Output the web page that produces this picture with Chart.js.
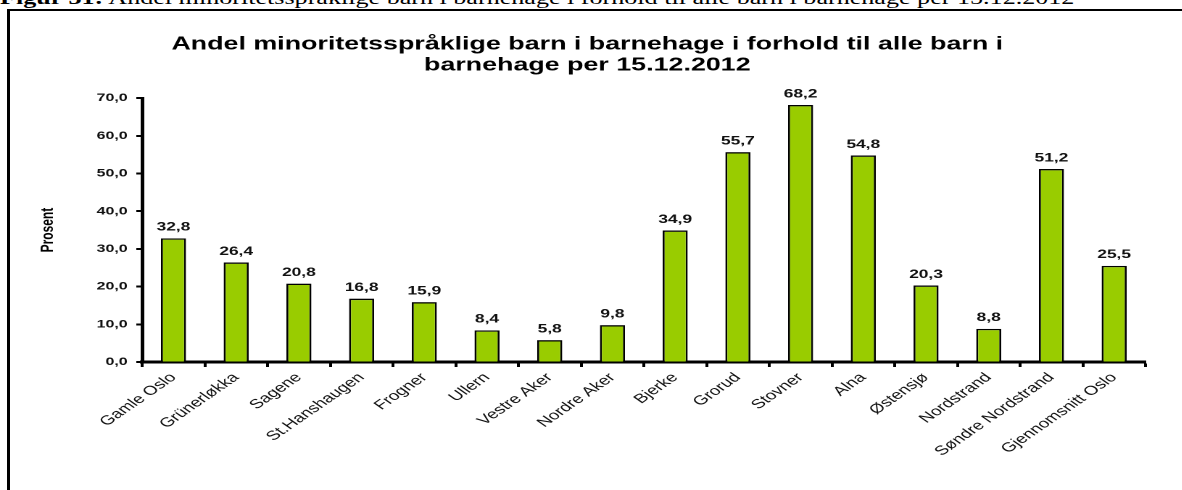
<!DOCTYPE html>
<html>
<head>
<meta charset="utf-8">
<script src="https://cdn.jsdelivr.net/npm/chart.js@4"></script>
<style>
  body { margin: 0; background: #fff; width: 1182px; height: 490px; overflow: hidden; position: relative; }
  #caption { position: absolute; left: 0; top: -12px; white-space: nowrap;
    font: 18px "Liberation Serif", "Times New Roman", serif; color: #000;
    transform: scaleX(1.45); transform-origin: 0 0; }
  #frame { position: absolute; left: 7px; top: 9px; width: 1200px; height: 500px;
    border-left: 3px solid #000; border-top: 2px solid #000; pointer-events: none; }
  /* the reference is stretched sideways, so the chart is drawn narrow and widened */
  #chart { position: absolute; left: 0; top: 0; transform: scaleX(1.45); transform-origin: 0 0; }
</style>
</head>
<body>
<div id="caption"><b>Figur 31:</b> Andel minoritetsspråklige barn i barnehage i forhold til alle barn i barnehage per 15.12.2012</div>
<div id="frame"></div>
<canvas id="chart" width="815" height="490"></canvas>
<script>
const categories = ["Gamle Oslo", "Grünerløkka", "Sagene", "St.Hanshaugen", "Frogner", "Ullern",
  "Vestre Aker", "Nordre Aker", "Bjerke", "Grorud", "Stovner", "Alna", "Østensjø",
  "Nordstrand", "Søndre Nordstrand", "Gjennomsnitt Oslo"];
const values = [32.8, 26.4, 20.8, 16.8, 15.9, 8.4, 5.8, 9.8, 34.9, 55.7, 68.2, 54.8, 20.3, 8.8, 51.2, 25.5];
const titleLines = ["Andel minoritetsspråklige barn i barnehage i forhold til alle barn i", "barnehage per 15.12.2012"];
const yTicks = [0, 10, 20, 30, 40, 50, 60, 70];

const fmt = v => v.toFixed(1).replace(".", ",");
const FONT = "'Liberation Sans', Arial, sans-serif";

// value labels over each bar
const barLabels = {
  id: "barLabels",
  afterDatasetsDraw(chart) {
    const c = chart.ctx;
    const meta = chart.getDatasetMeta(0);
    c.save();
    c.font = "bold 12px " + FONT;
    c.fillStyle = "#111";
    c.textAlign = "center";
    c.textBaseline = "bottom";
    meta.data.forEach((bar, i) => {
      c.fillText(fmt(values[i]), bar.x, bar.y - 5);
    });
    c.restore();
  }
};

const ctx = document.getElementById("chart");
new Chart(ctx, {
  type: "bar",
  data: {
    labels: categories,
    datasets: [{
      data: values,
      backgroundColor: "#99cc00",
      borderColor: "#000",
      borderWidth: 1.4,
      barPercentage: 0.4,
      categoryPercentage: 1
    }]
  },
  options: {
    responsive: false,
    animation: false,
    devicePixelRatio: 2,
    layout: { padding: { left: 20, right: 25, top: 0, bottom: 0 } },
    plugins: {
      legend: { display: false },
      tooltip: { enabled: false },
      title: {
        display: true,
        text: titleLines,
        color: "#000",
        font: { family: FONT, size: 18.5, weight: "bold", lineHeight: 1.14 },
        padding: { top: 34, bottom: 22 }
      }
    },
    scales: {
      x: {
        afterFit: s => { s.height = 128; },
        grid: { drawOnChartArea: false, offset: true, tickLength: 5, tickColor: "#000", tickWidth: 2 },
        border: { color: "#000", width: 3 },
        ticks: {
          minRotation: 45, maxRotation: 45, autoSkip: false, padding: 3,
          color: "#111",
          font: { family: FONT, size: 13 }
        }
      },
      y: {
        min: 0, max: 70,
        afterFit: s => { s.width = 78; },
        afterBuildTicks: s => { s.ticks = yTicks.map(v => ({ value: v })); },
        grid: { drawOnChartArea: false, tickLength: 4, tickColor: "#000", tickWidth: 2 },
        border: { color: "#000", width: 2.5 },
        ticks: {
          callback: v => fmt(v),
          color: "#111",
          padding: 6,
          font: { family: FONT, size: 11, weight: "bold" }
        },
        title: {
          display: true,
          text: "Prosent",
          color: "#000",
          padding: { top: 6, bottom: 0 },
          font: { family: FONT, size: 12, weight: "bold" }
        }
      }
    }
  },
  plugins: [barLabels]
});
</script>
</body>
</html>
